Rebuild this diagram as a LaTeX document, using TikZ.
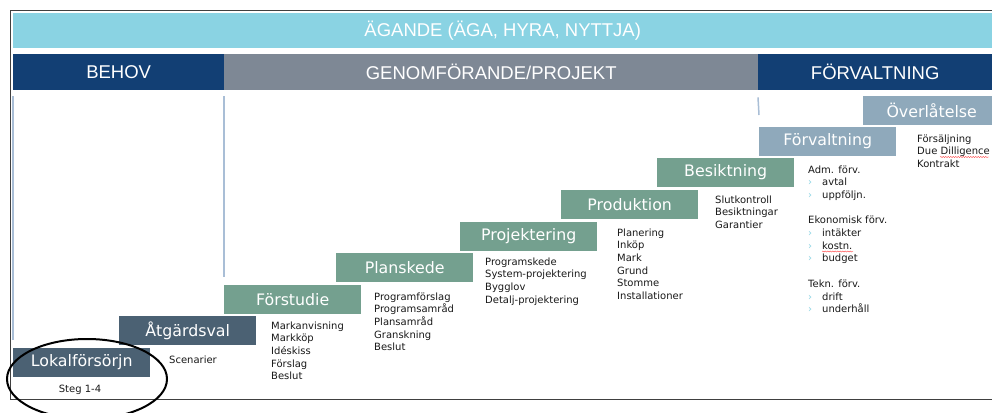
\documentclass[tikz,border=0pt]{standalone}
\usepackage{fontspec}
\setmainfont{DejaVu Sans}
\newfontfamily\headfont{Liberation Sans}
\usetikzlibrary{decorations.pathmorphing}
\definecolor{agcol}{HTML}{8AD3E3}
\definecolor{navy}{HTML}{123F74}
\definecolor{greybar}{HTML}{7E8895}
\definecolor{slate}{HTML}{4B6173}
\definecolor{sage}{HTML}{74A08F}
\definecolor{steel}{HTML}{8FA9BB}
\definecolor{vline}{HTML}{A9BED6}
\newcommand{\bul}{\makebox[14pt][l]{\textcolor{agcol}{›}}}
\newcommand{\itemlines}[1]{\begin{tabular}[t]{@{}l@{}}#1\end{tabular}}

\begin{document}
\begin{tikzpicture}[x=1pt,y=-1pt]
            \tikzstyle{every node}+=[inner sep=0pt]
            \tikzstyle{bar}=[anchor=north west, minimum height=36, text=white, font=\headfont\fontsize{18.5}{20}\selectfont]
            \tikzstyle{stepbox}=[anchor=north west, minimum width=137, minimum height=28.5, text=white, font=\fontsize{15.8}{18}\selectfont]
            \tikzstyle{list}=[anchor=base west, text=black!90, font=\fontsize{10}{12.7}\selectfont]
            \tikzstyle{vrule}=[draw=vline, line width=1.5pt]
            \tikzstyle{squiggle}=[red!80, line width=0.4pt, decorate, decoration={snake, amplitude=0.5pt, segment length=2.5pt}]
            \useasboundingbox (0,0) rectangle (992,412);
            \fill [white] (0,0) rectangle (992,412);
            \draw [black!75, line width=1pt] (992,10.5) -- (10.5,10.5) -- (10.5,399.5) -- (992,399.5);
            \node [bar, fill=agcol, minimum width=979, minimum height=35] (agande) at (13,13) {ÄGANDE (ÄGA, HYRA, NYTTJA)};
            \node [bar, fill=navy, minimum width=211] (behov) at (13,54) {BEHOV};
            \node [bar, fill=greybar, minimum width=534] (genom) at (224,54) {GENOMFÖRANDE/PROJEKT};
            \node [bar, fill=navy, minimum width=234] (forv) at (758,54) {FÖRVALTNING};
            \node [stepbox, fill=slate] (lokal) at (13,348) {Lokalförsörjn};
            \node [stepbox, fill=slate] (atgard) at (119,316) {Åtgärdsval};
            \node [stepbox, fill=sage] (forstudie) at (224,285) {Förstudie};
            \node [stepbox, fill=sage] (planskede) at (336,253) {Planskede};
            \node [stepbox, fill=sage] (projektering) at (460,222) {Projektering};
            \node [stepbox, fill=sage] (produktion) at (561,190) {Produktion};
            \node [stepbox, fill=sage] (besiktning) at (657,158) {Besiktning};
            \node [stepbox, fill=steel] (forvaltning) at (759,127) {Förvaltning};
            \node [stepbox, fill=steel] (overlatelse) at (863,96) {Överlåtelse};
            \draw [vrule] ([yshift=-6pt]behov.south west) -- ([yshift=8pt]lokal.north west);
            \draw [vrule] ([yshift=-6pt]genom.south west) -- ([yshift=8pt]forstudie.north west);
            \draw [vrule] ([yshift=-7pt]forv.south west) -- ([yshift=12pt]forvaltning.north west);
            \node [list, anchor=base] (steg) at (80,392) {Steg 1-4};
            \node [list] (scenarier) at (169,363) {Scenarier};
            \node [list] (forstudielist) at (271,329) {\itemlines{Markanvisning\\Markköp\\Idéskiss\\Förslag\\Beslut}};
            \node [list] (planlist) at (374,300) {\itemlines{Programförslag\\Programsamråd\\Plansamråd\\Granskning\\Beslut}};
            \node [list] (projlist) at (485,265) {\itemlines{Programskede\\System-projektering\\Bygglov\\Detalj-projektering}};
            \node [list] (prodlist) at (617,236) {\itemlines{Planering\\Inköp\\Mark\\Grund\\Stomme\\Installationer}};
            \node [list] (beslist) at (715,203) {\itemlines{Slutkontroll\\Besiktningar\\Garantier}};
            \node [list] (forvlist) at (808,173) {\itemlines{Adm. förv.\\\bul avtal\\\bul uppföljn.\\[12.7pt]Ekonomisk förv.\\\bul intäkter\\\bul kostn.\\\bul budget\\[12.7pt]Tekn. förv.\\\bul drift\\\bul underhåll}};
            \node [list] (overlist) at (917,142) {\itemlines{Försäljning\\Due Dilligence\\Kontrakt}};
            \draw [squiggle] (940,157) -- (989,157);
            \draw [squiggle] (822,251.5) -- (853,251.5);
            \draw [black, line width=2pt] (87,379) ellipse [x radius=80, y radius=40];
\end{tikzpicture}
\end{document}
